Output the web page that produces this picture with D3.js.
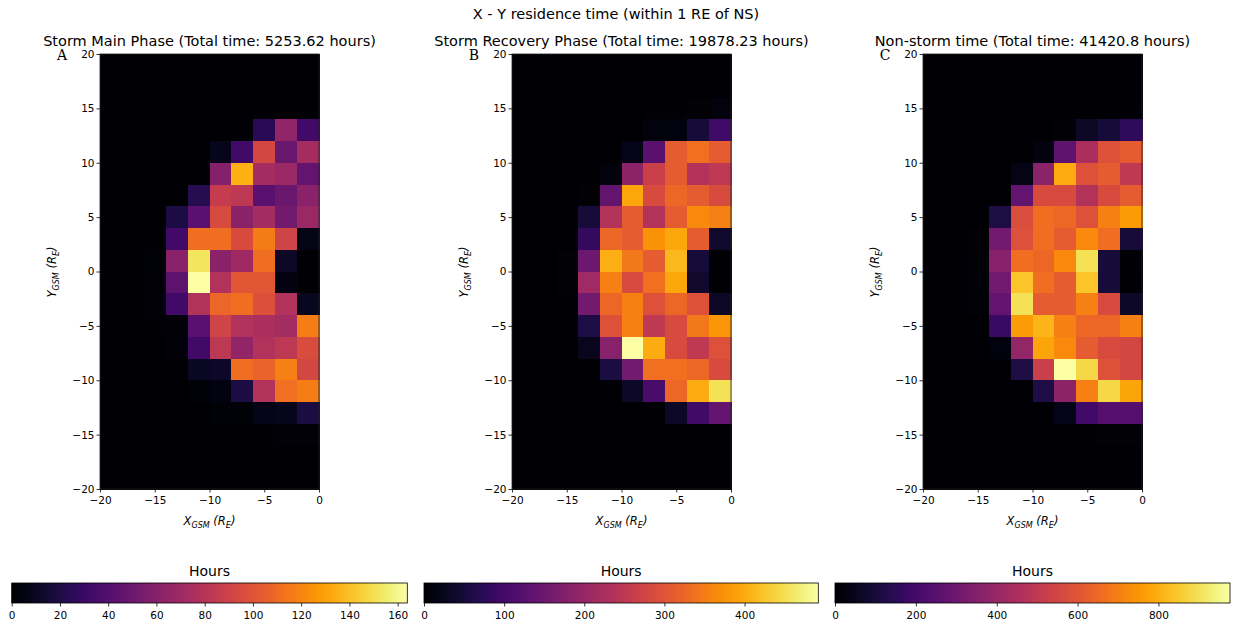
<!DOCTYPE html>
<html>
<head>
<meta charset="utf-8">
<script src="https://cdn.jsdelivr.net/npm/d3@7"></script>
<style>
  body { margin: 0; background: #fff; }
  text { font-family: "DejaVu Sans", sans-serif; fill: #000; }
</style>
</head>
<body>
<svg id="chart" width="1233" height="627"></svg>
<script>
// bin edges (R_E)
var xEdges = [-20, -18, -16, -14, -12, -10, -8, -6, -4, -2, 0];
var yEdges = [20, 18, 16, 14, 12, 10, 8, 6, 4, 2, 0, -2, -4, -6, -8, -10, -12, -14, -16, -18, -20];
var xTicks = [-20, -15, -10, -5, 0];
var yTicks = [20, 15, 10, 5, 0, -5, -10, -15, -20];

var panelTitles = [
    "Storm Main Phase (Total time: 5253.62 hours)",
    "Storm Recovery Phase (Total time: 19878.23 hours)",
    "Non-storm time (Total time: 41420.8 hours)"
];
var panelLetters = ["A", "B", "C"];
var colorMax = [164, 492, 977];
var colorTicksA = [0, 20, 40, 60, 80, 100, 120, 140, 160];
var colorTicksB = [0, 100, 200, 300, 400];
var colorTicksC = [0, 200, 400, 600, 800];

// hours per bin, rows = Y from +20 down to -20, cols = X from -20 to 0
var mainPhase = [
    [0, 0, 0, 0, 0, 0, 0, 0, 0, 0],
    [0, 0, 0, 0, 0, 0, 0, 0, 0, 0],
    [0, 0, 0, 0, 0, 0, 0, 1, 1, 1],
    [0, 0, 0, 0, 0, 0, 1, 24, 65, 33],
    [0, 0, 0, 0, 0, 8, 33, 93, 49, 73],
    [0, 0, 0, 0, 1, 60, 135, 73, 68, 46],
    [0, 0, 0, 0, 23, 86, 83, 42, 49, 62],
    [0, 0, 0, 19, 42, 95, 62, 73, 52, 68],
    [0, 0, 1, 33, 111, 111, 95, 116, 91, 7],
    [0, 0, 2, 62, 152, 62, 70, 111, 11, 1],
    [0, 1, 3, 44, 164, 78, 101, 101, 5, 1],
    [0, 0, 3, 33, 78, 108, 111, 98, 78, 9],
    [0, 0, 1, 3, 42, 91, 78, 75, 72, 117],
    [0, 0, 0, 3, 33, 83, 65, 78, 83, 96],
    [0, 0, 0, 1, 10, 12, 111, 106, 118, 93],
    [0, 0, 0, 0, 2, 5, 19, 78, 112, 117],
    [0, 0, 0, 0, 0, 2, 2, 7, 8, 18],
    [0, 0, 0, 0, 0, 0, 0, 1, 3, 3],
    [0, 0, 0, 0, 0, 0, 0, 0, 0, 0],
    [0, 0, 0, 0, 0, 0, 0, 0, 0, 0]
];
var recoveryPhase = [
    [0, 0, 0, 0, 0, 0, 0, 0, 0, 0],
    [0, 0, 0, 0, 0, 0, 0, 0, 0, 0],
    [0, 0, 0, 0, 0, 0, 2, 3, 5, 10],
    [0, 0, 0, 0, 0, 0, 10, 12, 49, 98],
    [0, 0, 0, 0, 0, 20, 128, 310, 335, 310],
    [0, 0, 0, 0, 10, 187, 266, 310, 236, 251],
    [0, 0, 0, 5, 138, 394, 285, 325, 310, 285],
    [0, 0, 0, 49, 236, 310, 236, 310, 364, 354],
    [0, 0, 0, 84, 325, 310, 374, 394, 310, 39],
    [0, 0, 5, 148, 403, 345, 310, 413, 49, 2],
    [0, 0, 5, 212, 354, 285, 335, 394, 39, 2],
    [0, 0, 3, 157, 325, 354, 295, 325, 295, 34],
    [0, 0, 2, 59, 295, 354, 251, 285, 345, 379],
    [0, 0, 1, 25, 182, 492, 400, 285, 251, 295],
    [0, 0, 0, 2, 54, 157, 335, 335, 325, 285],
    [0, 0, 0, 0, 3, 34, 108, 325, 400, 453],
    [0, 0, 0, 0, 0, 1, 2, 34, 98, 138],
    [0, 0, 0, 0, 0, 0, 0, 2, 3, 3],
    [0, 0, 0, 0, 0, 0, 0, 0, 0, 0],
    [0, 0, 0, 0, 0, 0, 0, 0, 0, 0]
];
var nonStorm = [
    [0, 0, 0, 0, 0, 0, 0, 0, 0, 0],
    [0, 0, 0, 0, 0, 0, 0, 0, 0, 0],
    [0, 0, 0, 0, 0, 0, 2, 5, 5, 5],
    [0, 0, 0, 0, 0, 0, 10, 68, 98, 156],
    [0, 0, 0, 0, 0, 29, 264, 450, 586, 616],
    [0, 0, 0, 0, 39, 371, 791, 586, 616, 498],
    [0, 0, 0, 2, 274, 567, 567, 469, 567, 616],
    [0, 0, 0, 117, 576, 664, 645, 586, 703, 762],
    [0, 0, 10, 313, 586, 664, 616, 723, 664, 98],
    [0, 0, 15, 361, 664, 645, 723, 899, 98, 5],
    [0, 0, 15, 313, 840, 664, 616, 840, 98, 3],
    [0, 0, 15, 274, 899, 616, 616, 703, 567, 68],
    [0, 0, 3, 176, 762, 811, 703, 645, 645, 703],
    [0, 0, 2, 25, 391, 782, 723, 616, 567, 557],
    [0, 0, 0, 2, 117, 528, 977, 880, 586, 557],
    [0, 0, 0, 0, 3, 117, 371, 703, 880, 782],
    [0, 0, 0, 0, 0, 3, 39, 195, 244, 244],
    [0, 0, 0, 0, 0, 0, 2, 5, 10, 10],
    [0, 0, 0, 0, 0, 0, 0, 0, 0, 0],
    [0, 0, 0, 0, 0, 0, 0, 0, 0, 0]
];

var panelData = [mainPhase, recoveryPhase, nonStorm];
var colorTicks = [colorTicksA, colorTicksB, colorTicksC];

var svg = d3.select("#chart");

var plotLefts = [100, 512, 923],
    plotW = 219,
    plotTop = 54,
    plotBottom = 489;
var barLefts = [11.7, 424, 835],
    barRights = [407.3, 818.3, 1230],
    barTop = 583,
    barH = 20;

var fmt = function (d) { return d < 0 ? "\u2212" + Math.abs(d) : String(d); };

svg.append("text")
    .attr("x", 616).attr("y", 19)
    .attr("text-anchor", "middle")
    .style("font-size", "14.5px")
    .text("X - Y residence time (within 1 RE of NS)");

// gradient for colorbars
var defs = svg.append("defs");
var grad = defs.append("linearGradient").attr("id", "infernoGrad")
    .attr("x1", "0%").attr("x2", "100%").attr("y1", "0%").attr("y2", "0%");
d3.range(0, 1.0001, 0.02).forEach(function (t) {
    grad.append("stop").attr("offset", (t * 100) + "%").attr("stop-color", d3.interpolateInferno(t));
});

function addLabel(g, x, y, main, rotate) {
    var t = g.append("text")
        .attr("text-anchor", "middle")
        .style("font-size", "11.5px")
        .style("font-style", "italic");
    if (rotate) {
        t.attr("transform", "translate(" + x + "," + y + ") rotate(-90)");
    } else {
        t.attr("transform", "translate(" + x + "," + y + ")");
    }
    t.append("tspan").text(main);
    t.append("tspan").attr("dy", 2.8).style("font-size", "8px").text("GSM");
    t.append("tspan").attr("dy", -2.8).text(" (R");
    t.append("tspan").attr("dy", 2.8).style("font-size", "8px").text("E");
    t.append("tspan").attr("dy", -2.8).text(")");
}

panelData.forEach(function (grid, p) {
    var left = plotLefts[p];
    var x = d3.scaleLinear().domain([-20, 0]).range([left, left + plotW]);
    var y = d3.scaleLinear().domain([-20, 20]).range([plotBottom, plotTop]);
    var color = d3.scaleSequential(d3.interpolateInferno).domain([0, colorMax[p]]);

    var g = svg.append("g");

    var cells = [];
    grid.forEach(function (row, r) {
        row.forEach(function (v, c) {
            cells.push({ x0: xEdges[c], x1: xEdges[c + 1], y0: yEdges[r], y1: yEdges[r + 1], v: v });
        });
    });

    g.selectAll("rect.cell")
        .data(cells)
        .enter().append("rect")
        .attr("class", "cell")
        .attr("x", function (d) { return x(d.x0); })
        .attr("y", function (d) { return y(d.y0); })
        .attr("width", function (d) { return x(d.x1) - x(d.x0) + 0.6; })
        .attr("height", function (d) { return y(d.y1) - y(d.y0) + 0.6; })
        .attr("shape-rendering", "crispEdges")
        .attr("fill", function (d) { return color(d.v); });

    g.append("rect")
        .attr("x", left).attr("y", plotTop)
        .attr("width", plotW).attr("height", plotBottom - plotTop)
        .attr("fill", "none").attr("stroke", "#222").attr("stroke-width", 0.8);

    var xAxis = g.append("g")
        .attr("transform", "translate(0," + plotBottom + ")")
        .call(d3.axisBottom(x).tickValues(xTicks).tickSize(3.5).tickPadding(4).tickFormat(fmt));
    var yAxis = g.append("g")
        .attr("transform", "translate(" + left + ",0)")
        .call(d3.axisLeft(y).tickValues(yTicks).tickSize(3.5).tickPadding(2).tickFormat(fmt));
    [xAxis, yAxis].forEach(function (a) {
        a.select(".domain").remove();
        a.selectAll("text").style("font-size", "10.5px").style("font-family", "DejaVu Sans, sans-serif").attr("fill", "#000");
        a.selectAll("line").attr("stroke", "#000").attr("stroke-width", 0.8);
    });

    g.append("text")
        .attr("x", left + plotW / 2).attr("y", 46)
        .attr("text-anchor", "middle")
        .style("font-size", "14.5px")
        .text(panelTitles[p]);

    g.append("text")
        .attr("x", left - 38).attr("y", 60)
        .attr("text-anchor", "middle")
        .style("font-family", "DejaVu Serif, serif")
        .style("font-size", "14px")
        .text(panelLetters[p]);

    addLabel(g, left + plotW / 2, 525, "X", false);
    addLabel(g, left - 44, 272, "Y", true);

    // colorbar
    var cx = d3.scaleLinear().domain([0, colorMax[p]]).range([barLefts[p], barRights[p]]);
    var cb = svg.append("g");
    cb.append("rect")
        .attr("x", barLefts[p]).attr("y", barTop)
        .attr("width", barRights[p] - barLefts[p]).attr("height", barH)
        .attr("fill", "url(#infernoGrad)")
        .attr("stroke", "#000").attr("stroke-width", 0.8);
    var cAxis = cb.append("g")
        .attr("transform", "translate(0," + (barTop + barH) + ")")
        .call(d3.axisBottom(cx).tickValues(colorTicks[p]).tickSize(3.5).tickPadding(5).tickFormat(fmt));
    cAxis.select(".domain").remove();
    cAxis.selectAll("text").style("font-size", "10.5px").style("font-family", "DejaVu Sans, sans-serif").attr("fill", "#000");
    cAxis.selectAll("line").attr("stroke", "#000").attr("stroke-width", 0.8);
    cb.append("text")
        .attr("x", (barLefts[p] + barRights[p]) / 2).attr("y", 576)
        .attr("text-anchor", "middle")
        .style("font-size", "14px")
        .text("Hours");
});
</script>
</body>
</html>
